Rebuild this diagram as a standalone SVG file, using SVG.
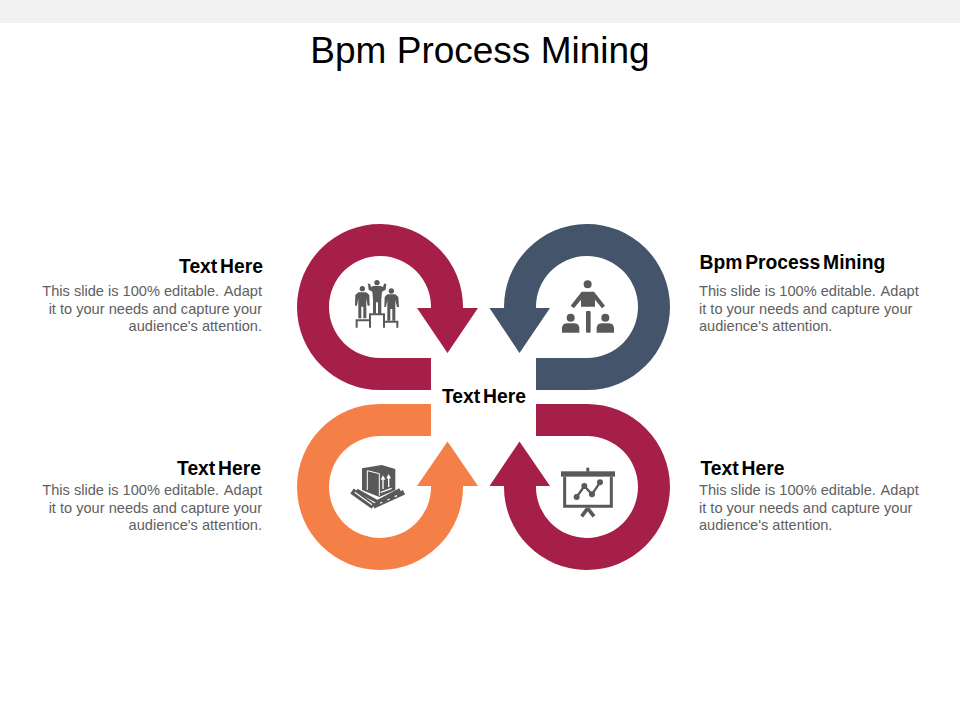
<svg xmlns="http://www.w3.org/2000/svg" width="960" height="720" viewBox="0 0 960 720">
<style>
text{font-family:"Liberation Sans",Arial,sans-serif}
.title{font-size:37px;fill:#000;text-anchor:middle}
.h{font-size:19.300px;font-weight:700;fill:#000;word-spacing:-2.500px}
.b{font-size:14.600px;fill:#606060}
.e{text-anchor:end}
.ic{fill:#595959;stroke:none}
.il{fill:none;stroke:#595959;stroke-linecap:butt}
</style>
<rect width="960" height="23" fill="#f2f2f2"/>
<text class="title" x="480" y="63">Bpm Process Mining</text>
<g id="connectors">
<path id="arrow-tl" fill="#a61f48" d="M431 390H380A83 83 0 1 1 463 308H478L447.500 353L417 308H431A51 51 0 1 0 380 358H431Z"/>
<path id="arrow-tr" fill="#44546a" d="M536 390H587A83 83 0 1 0 504 308H489.500L519.500 353L550 308H536A51 51 0 1 1 587 358H536Z"/>
<path id="arrow-bl" fill="#f48048" d="M431 404H380A83 83 0 1 0 463 486H478L447.500 441.500L417 486H431A51 51 0 1 1 380 436H431Z"/>
<path id="arrow-br" fill="#a61f48" d="M536 404H587A83 83 0 1 1 504 486H489.500L519.500 441.500L550 486H536A51 51 0 1 0 587 436H536Z"/>
</g>
<g id="node-center"><text class="h" x="484" y="403" text-anchor="middle">Text Here</text></g>
<g id="node-top-left">
<g transform="translate(290 215) scale(.3333)">
<g class="ic">
<circle cx="217" cy="221" r="8"/><path d="M205 232H229L238 240L239 272H233L229 250V310H220V275H214V310H205V250L201 272H195L196 240Z"/>
<circle cx="261" cy="203" r="8"/><path d="M234 206H240L243 216L250 213H272L279 216L282 206H289L287 224L276 230L274 252V296H264V262H258V296H249V252L247 230L236 224Z"/>
<circle cx="304" cy="228" r="8"/><path d="M292 238H316L325 246L327 276H321L316 256V317H307V282H301V317H292V256L288 276H283L284 246Z"/>
</g>
<path class="il" stroke-width="6" d="M200 338V316H240V338M240 338V298H282V338M282 320H322V338"/>
</g>
<text class="h e" x="263" y="272.500">Text Here</text>
<text class="b e" x="262" y="296">This slide is 100% editable. <tspan dx="1.500">Adapt</tspan></text>
<text class="b e" x="262" y="314">it to your needs and capture your</text>
<text class="b e" x="262" y="330.500">audience's attention.</text>
</g>
<g id="node-top-right">
<g transform="translate(480 215) scale(.3333)" class="ic">
<circle cx="323" cy="208" r="12"/>
<path d="M305 230H342L375 272L366 280L345 254V275H303V254L282 280L272 272Z"/>
<rect x="318" y="288" width="14" height="65" rx="3"/>
<circle cx="272" cy="308" r="12"/><path d="M246 353V338Q248 325 262 325H282Q296 325 298 338V353Z"/>
<circle cx="376" cy="308" r="12"/><path d="M350 353V338Q352 325 366 325H386Q400 325 402 338V353Z"/>
</g>
<text class="h" x="699.500" y="269">Bpm Process Mining</text>
<text class="b" x="699" y="296">This slide is 100% editable. <tspan dx="1.500">Adapt</tspan></text>
<text class="b" x="699" y="314">it to your needs and capture your</text>
<text class="b" x="699" y="331">audience's attention.</text>
</g>
<g id="node-bottom-left">
<g transform="translate(290 395) scale(.3333)">
<path class="ic" d="M216 220L275 210L316 222V285L268 306L216 285Z"/>
<path fill="none" stroke="#fff" stroke-width="3" d="M232 227V285M232 227L268 236V302"/>
<path fill="none" stroke="#fff" stroke-width="4" d="M279 282V247M274 254L279 245L284 254M296 276V243M291 250L296 241L301 250M272 292L305 280"/>
<path class="il" stroke-width="18" d="M186 288L250 334"/>
<path class="il" stroke-width="15" d="M250 334L342 292"/>
<path class="il" stroke-width="10" d="M200 286L262 320L330 284"/>
<path fill="none" stroke="#fff" stroke-width="3.500" d="M194 292L246 329M270 325L277 322M292 315L299 312M314 305L321 302"/>
</g>
<text class="h e" x="261" y="474.500">Text Here</text>
<text class="b e" x="262" y="495">This slide is 100% editable. <tspan dx="1.500">Adapt</tspan></text>
<text class="b e" x="262" y="513">it to your needs and capture your</text>
<text class="b e" x="262" y="530">audience's attention.</text>
</g>
<g id="node-bottom-right">
<g transform="translate(480 395) scale(.3333)">
<path class="il" stroke-width="9" d="M254 245V334H394V245"/>
<rect class="ic" x="243" y="229" width="162" height="16"/>
<rect class="ic" x="319" y="218" width="9" height="12"/>
<path class="il" stroke-width="11" stroke-linecap="round" d="M323 340L305 364M323 340L342 364"/>
<path class="il" stroke-width="7" d="M290 306L313 273L336 298L360 262"/>
<circle class="ic" cx="290" cy="306" r="9"/><circle class="ic" cx="313" cy="273" r="9"/><circle class="ic" cx="336" cy="298" r="9"/><circle class="ic" cx="360" cy="262" r="9"/>
</g>
<text class="h" x="700.500" y="474.500">Text Here</text>
<text class="b" x="699" y="495">This slide is 100% editable. <tspan dx="1.500">Adapt</tspan></text>
<text class="b" x="699" y="513">it to your needs and capture your</text>
<text class="b" x="699" y="530">audience's attention.</text>
</g>
</svg>
